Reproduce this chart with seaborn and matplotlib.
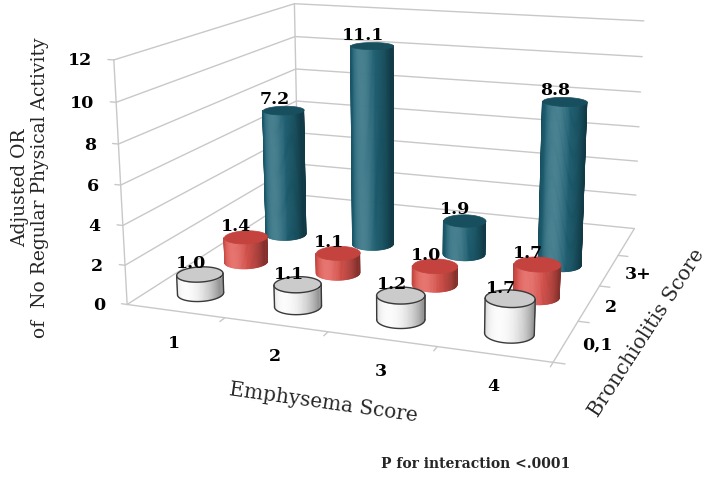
import numpy as np
import matplotlib
matplotlib.use("Agg")
import matplotlib.pyplot as plt
import matplotlib.transforms as mtransforms
from mpl_toolkits.mplot3d import proj3d
from mpl_toolkits.mplot3d.art3d import Poly3DCollection
import seaborn as sns

# --- values ---
emphysema = ["1", "2", "3", "4"]
bronchiolitis = ["0,1", "2", "3+"]
or_01 = [1.0, 1.1, 1.2, 1.7]
or_2 = [1.4, 1.1, 1.0, 1.7]
or_3p = [7.2, 11.1, 1.9, 8.8]
z_ticks = [0, 2, 4, 6, 8, 10, 12]

sns.set_theme(style="white")
plt.rcParams['font.family'] = ['DejaVu Serif']

series = [or_01, or_2, or_3p]
side_colors = ["#f6f6f6", "#dc524c", "#1d6174"]
top_colors = ["#cbcbcb", "#c4433e", "#184f5f"]
outlined = [True, False, False]

fig = plt.figure(figsize=(7.04, 4.89), dpi=100)
ax = fig.add_axes([0.1385, 0.0608, 0.8433, 1.2141], projection="3d",
                  computed_zorder=False)
ELEV, AZIM = 14.19, -70.52
XL, YL, ZL = (0.5, 4.5), (0.5, 4.5), (0, 12)
BOX = (1, 0.970, 0.570)
ax.set_box_aspect(BOX)
ax.set_proj_type("persp", focal_length=0.41)
ax.view_init(elev=ELEV, azim=AZIM)
ax.set_xlim(*XL)
ax.set_ylim(*YL)
ax.set_zlim(*ZL)
ax.set_axis_off()
M = ax.get_proj()

zo = [1]


def nz():
    zo[0] += 1
    return zo[0]


def text3d(x, y, z, s, dx=0, dy=0, **kw):
    t = ax.text(x, y, z, s, **kw)
    t.set_transform(ax.transData + mtransforms.ScaledTranslation(
        dx / 100, dy / 100, fig.dpi_scale_trans))
    return t


# --- walls and floor edges ---
grid_kw = dict(color="#c8c8c8", lw=1.0)
for z in z_ticks:
    ax.plot([XL[0], XL[0]], [YL[0], YL[1]], [z, z], zorder=nz(), **grid_kw)
    ax.plot([XL[0], XL[1]], [YL[1], YL[1]], [z, z], zorder=nz(), **grid_kw)
    ax.plot([XL[0], XL[0] - 0.06], [YL[0], YL[0]], [z, z], zorder=nz(),
            **grid_kw)
ax.plot([XL[0]] * 2, [YL[1]] * 2, list(ZL), zorder=nz(), **grid_kw)
ax.plot([XL[0]] * 2, [YL[0]] * 2, list(ZL), zorder=nz(), **grid_kw)
ax.plot([XL[0], XL[1]], [YL[0]] * 2, [0, 0], zorder=nz(), **grid_kw)
ax.plot([XL[1]] * 2, [YL[0], YL[1]], [0, 0], zorder=nz(), **grid_kw)
for xt in [1.5, 2.5, 3.5, 4.5]:
    ax.plot([xt, xt], [YL[0], YL[0] - 0.1], [0, 0], zorder=nz(), **grid_kw)
for yt in [0.5, 1.5, 2.5, 3.5]:
    ax.plot([XL[1], XL[1] + 0.1], [yt, yt], [0, 0], zorder=nz(), **grid_kw)

# --- cylinders (round in box space) ---
ux = BOX[0] / (XL[1] - XL[0])
uy = BOX[1] / (YL[1] - YL[0])
rx = 0.215
ry = rx * ux / uy
theta = np.linspace(0, 2 * np.pi, 121)
light = np.deg2rad(AZIM - 28)


def shade(base, t):
    rgb = np.array(matplotlib.colors.to_rgb(base))
    d = np.cos(t - light)
    f = 0.6 + 0.42 * np.clip(d, 0, 1)
    col = rgb * f
    hi = np.clip(d - 0.8, 0, 1) * 0.9
    col = col + (1 - col) * hi
    return np.clip(col, 0, 1)


def front_arc(xc, yc):
    # part of the rim that faces the viewer, between the two silhouettes
    bx = xc + rx * np.cos(theta)
    by = yc + ry * np.sin(theta)
    px, py, _ = proj3d.proj_transform(bx, by, np.zeros_like(bx), M)
    px, py = np.asarray(px), np.asarray(py)
    i0, i1 = int(np.argmin(px[:-1])), int(np.argmax(px[:-1]))
    lo, hi_ = sorted([i0, i1])
    arc = np.arange(lo, hi_ + 1)
    other = np.r_[np.arange(hi_, len(theta) - 1), np.arange(0, lo + 1)]
    if np.mean(py[other]) < np.mean(py[arc]):
        arc = other
    return theta[arc], (i0, i1)


def cylinder(xc, yc, h, ci):
    t_front, sil = front_arc(xc, yc)
    quads, cols = [], []
    for t0, t1 in zip(t_front[:-1], t_front[1:]):
        x0, y0 = xc + rx * np.cos(t0), yc + ry * np.sin(t0)
        x1, y1 = xc + rx * np.cos(t1), yc + ry * np.sin(t1)
        quads.append([(x0, y0, 0), (x1, y1, 0), (x1, y1, h), (x0, y0, h)])
        cols.append(shade(side_colors[ci], 0.5 * (t0 + t1)))
    side = Poly3DCollection(quads, facecolors=cols, edgecolors=cols,
                            linewidths=0.5, zorder=nz())
    ax.add_collection3d(side)
    rim = [(xc + rx * np.cos(t), yc + ry * np.sin(t), h) for t in theta]
    top = Poly3DCollection([rim], facecolors=top_colors[ci],
                           edgecolors=top_colors[ci], linewidths=0.5,
                           zorder=nz())
    ax.add_collection3d(top)
    if outlined[ci]:
        lk = dict(color="#3a3a3a", lw=1.0, zorder=nz())
        ax.plot(xc + rx * np.cos(theta), yc + ry * np.sin(theta),
                np.full_like(theta, h), **lk)
        ax.plot(xc + rx * np.cos(t_front), yc + ry * np.sin(t_front),
                np.zeros_like(t_front), **lk)
        for i in sil:
            ax.plot([xc + rx * np.cos(theta[i])] * 2,
                    [yc + ry * np.sin(theta[i])] * 2, [0, h], **lk)


lbl_kw = dict(fontsize=12.5, fontweight="bold", ha="center", va="bottom",
              color="black", zorder=500)
for si in [2, 1, 0]:
    for xi, val in enumerate(series[si]):
        cylinder(xi + 1, si + 1, val, si)
        text3d(xi + 1, si + 1, val, f"{val:.1f}", dx=-9, dy=3, **lbl_kw)

# --- tick labels ---
tick_kw = dict(fontsize=12.5, fontweight="bold", color="black", zorder=600)
for z in z_ticks:
    text3d(XL[0], YL[0], z, str(z), dx=-22, dy=0, ha="right", va="center",
           **tick_kw)
for xi, lab in enumerate(emphysema):
    text3d(xi + 1, YL[0], 0, lab, dx=-1, dy=-31, ha="center", va="center",
           **tick_kw)
for yi, lab in enumerate(bronchiolitis):
    text3d(XL[1], yi + 1, 0, lab, dx=16, dy=-3, ha="left", va="center",
           **tick_kw)

# --- axis titles ---
fig.text(0.028, 0.616, "Adjusted OR", rotation=90, ha="center", va="center",
         fontsize=13.5)
fig.text(0.057, 0.616, "of  No Regular Physical Activity", rotation=90,
         ha="center", va="center", fontsize=13.5)
fig.text(0.459, 0.176, "Emphysema Score", rotation=-8, ha="center",
         va="center", fontsize=14.5)
fig.text(0.919, 0.319, "Bronchiolitis Score", rotation=57, ha="center",
         va="center", fontsize=14.5)
fig.text(0.675, 0.051, "P for interaction <.0001", ha="center", va="center",
         fontsize=10, fontweight="bold")

fig.savefig("out.png", dpi=100)
